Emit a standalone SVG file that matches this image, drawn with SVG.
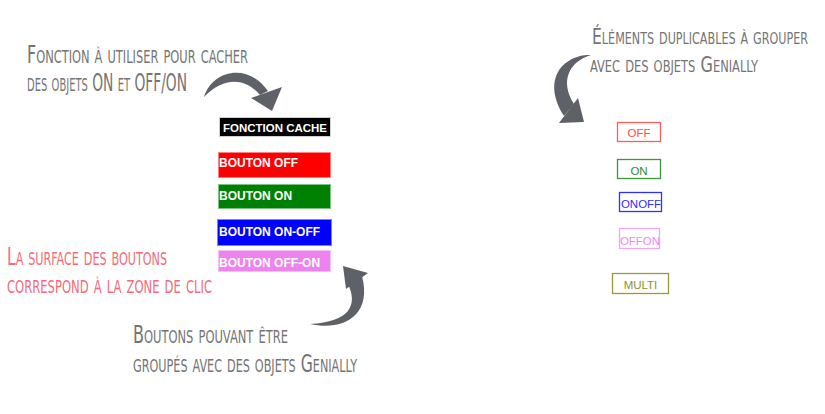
<svg xmlns="http://www.w3.org/2000/svg" width="825" height="414" viewBox="0 0 825 414">
<style>
.hand{font-family:"Liberation Sans Narrow","DejaVu Sans Condensed","Liberation Sans",sans-serif;font-variant:small-caps;font-size:25px;fill:#747474}
.small{font-size:21px}
.pink{fill:#f26b78}
.btn{font-family:"Liberation Sans",Arial,sans-serif;font-weight:bold;font-size:12px;fill:#ffffff}
.tag{font-family:"Liberation Sans",Arial,sans-serif;font-size:11.5px;text-anchor:middle}
.tagbox{fill:#ffffff;stroke-width:1.3}
.arrow{fill:#5f6169}
</style>
<rect width="825" height="414" fill="#ffffff"/>
<g id="labels">
<text class="hand" x="27" y="63" textLength="221" lengthAdjust="spacingAndGlyphs">Fonction à utiliser pour cacher</text>
<text class="hand" x="27" y="91" textLength="160" lengthAdjust="spacingAndGlyphs">des objets ON et OFF/ON</text>
<text class="hand small" x="592" y="44" textLength="216" lengthAdjust="spacingAndGlyphs">Éléments duplicables à grouper</text>
<text class="hand small" x="590" y="72" textLength="168" lengthAdjust="spacingAndGlyphs">avec des objets Genially</text>
<text class="hand pink" x="7" y="265" textLength="160" lengthAdjust="spacingAndGlyphs">La surface des boutons</text>
<text class="hand pink" x="7" y="293" textLength="205" lengthAdjust="spacingAndGlyphs">correspond à la zone de clic</text>
<text class="hand" x="133" y="343" textLength="155" lengthAdjust="spacingAndGlyphs">Boutons pouvant être</text>
<text class="hand" x="133" y="372" textLength="224" lengthAdjust="spacingAndGlyphs">groupés avec des objets Genially</text>
</g>
<g id="fonction-cache">
<rect x="219.5" y="117.5" width="111" height="19" fill="#000000" stroke="#cfcfcf"/>
<text class="btn" x="223" y="131.5" style="font-size:11.5px" textLength="104" lengthAdjust="spacingAndGlyphs">FONCTION CACHE</text>
</g>
<g id="bouton-off">
<rect x="218.5" y="152.5" width="112" height="25" fill="#ff0000" stroke="#ff8080"/>
<text class="btn" x="219" y="167">BOUTON OFF</text>
</g>
<g id="bouton-on">
<rect x="218.5" y="184.5" width="112" height="24" fill="#008000" stroke="#80c080"/>
<text class="btn" x="219" y="200">BOUTON ON</text>
</g>
<g id="bouton-on-off">
<rect x="217.5" y="219.5" width="114" height="26" fill="#0000ff" stroke="#8080ff"/>
<text class="btn" x="219" y="235.5">BOUTON ON-OFF</text>
</g>
<g id="bouton-off-on">
<rect x="218.5" y="250.5" width="112" height="21" fill="#ee82ee" stroke="#f6c0f6"/>
<text class="btn" x="219" y="267">BOUTON OFF-ON</text>
</g>
<g id="tag-off">
<rect class="tagbox" x="617.5" y="122.5" width="43" height="19" stroke="#ff5c5c"/>
<text class="tag" x="639" y="137" fill="#ff4a4a">OFF</text>
</g>
<g id="tag-on">
<rect class="tagbox" x="617.5" y="159.5" width="43" height="19" stroke="#3a9a3a"/>
<text class="tag" x="639" y="175" fill="#2e8b2e">ON</text>
</g>
<g id="tag-onoff">
<rect class="tagbox" x="619.5" y="192.5" width="42" height="19" stroke="#3030ff"/>
<text class="tag" x="641" y="208" fill="#3030ff">ONOFF</text>
</g>
<g id="tag-offon">
<rect class="tagbox" x="619.5" y="228.5" width="40" height="20" stroke="#f0a8f0"/>
<text class="tag" x="640" y="245" fill="#ee88ee">OFFON</text>
</g>
<g id="tag-multi">
<rect class="tagbox" x="612.5" y="273.5" width="56" height="20" stroke="#9a9a3a"/>
<text class="tag" x="640.5" y="289" fill="#8f8f30">MULTI</text>
</g>
<g id="connectors">
<path class="arrow" d="M204,97 C212,70 248,62 268,91 L260,95 C244,76 222,78 204,97 Z"/>
<polygon class="arrow" points="251,98 282,87 272,111"/>
<path class="arrow" d="M348,284 C358,305 350,322 310,324 C340,331 373,318 362,276 Z"/>
<polygon class="arrow" points="343,266 368,273 346,289"/>
<path class="arrow" d="M591,55 C565,54 540,78 564,116 L574,104 C560,82 568,62 591,55 Z"/>
<polygon class="arrow" points="559,123 578,98 584,122"/>
</g>
</svg>
